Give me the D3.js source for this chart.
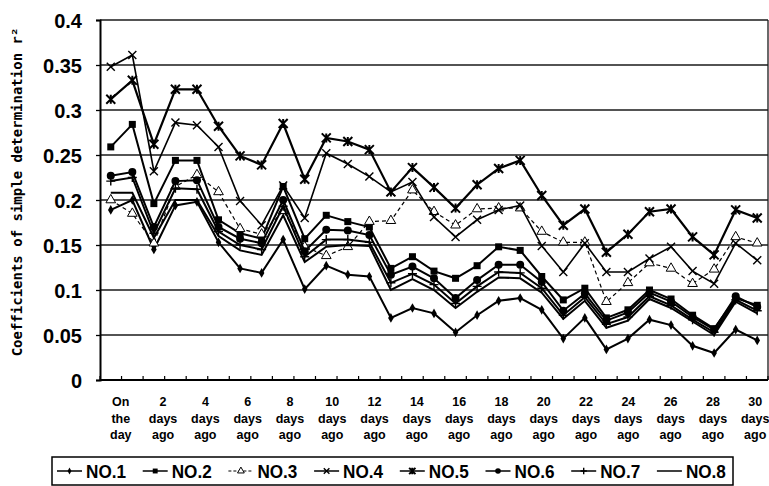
<!DOCTYPE html>
<html>
<head>
<meta charset="utf-8">
<script src="https://cdn.jsdelivr.net/npm/d3@7"></script>
<style>
  html, body { margin: 0; padding: 0; background: #fff; }
  svg { display: block; }
</style>
</head>
<body>
<svg id="chart" width="769" height="486"></svg>
<script>
// Category positions: on the day, then 1..30 days ago
const dayIndex = d3.range(0, 31);

// Axis labels shown on every second category
const dayLabels = [
  ["On", "the", "day"], ["2", "days", "ago"], ["4", "days", "ago"], ["6", "days", "ago"],
  ["8", "days", "ago"], ["10", "days", "ago"], ["12", "days", "ago"], ["14", "days", "ago"],
  ["16", "days", "ago"], ["18", "days", "ago"], ["20", "days", "ago"], ["22", "days", "ago"],
  ["24", "days", "ago"], ["26", "days", "ago"], ["28", "days", "ago"], ["30", "days", "ago"]
];

const yTicks = [0, 0.05, 0.1, 0.15, 0.2, 0.25, 0.3, 0.35, 0.4];

const seriesNames = ["NO.1", "NO.2", "NO.3", "NO.4", "NO.5", "NO.6", "NO.7", "NO.8"];

// Coefficients of simple determination r² per lag day
const no1 = [0.189, 0.200, 0.145, 0.194, 0.198, 0.153, 0.124, 0.119, 0.156, 0.101, 0.127,
             0.117, 0.115, 0.069, 0.080, 0.074, 0.053, 0.072, 0.088, 0.091, 0.078,
             0.046, 0.069, 0.034, 0.046, 0.067, 0.061, 0.038, 0.030, 0.056, 0.044];
const no2 = [0.259, 0.284, 0.196, 0.244, 0.244, 0.178, 0.163, 0.157, 0.215, 0.157, 0.183,
             0.176, 0.170, 0.124, 0.137, 0.121, 0.113, 0.127, 0.148, 0.144, 0.115,
             0.089, 0.102, 0.069, 0.078, 0.100, 0.090, 0.072, 0.057, 0.091, 0.083];
const no3 = [0.200, 0.185, 0.152, 0.215, 0.228, 0.209, 0.168, 0.162, 0.188, 0.148, 0.138,
             0.148, 0.176, 0.177, 0.211, 0.187, 0.172, 0.190, 0.191, 0.191, 0.165,
             0.153, 0.153, 0.087, 0.108, 0.130, 0.124, 0.107, 0.123, 0.159, 0.152];
const no4 = [0.348, 0.361, 0.232, 0.286, 0.283, 0.259, 0.199, 0.172, 0.216, 0.180, 0.252,
             0.240, 0.226, 0.209, 0.220, 0.181, 0.159, 0.178, 0.189, 0.194, 0.149,
             0.120, 0.152, 0.120, 0.120, 0.135, 0.148, 0.121, 0.107, 0.152, 0.133];
const no5 = [0.312, 0.333, 0.262, 0.323, 0.323, 0.282, 0.249, 0.239, 0.285, 0.223, 0.269,
             0.265, 0.256, 0.209, 0.236, 0.214, 0.191, 0.217, 0.235, 0.244, 0.205,
             0.172, 0.190, 0.142, 0.162, 0.187, 0.190, 0.159, 0.139, 0.189, 0.180];
const no6 = [0.227, 0.231, 0.170, 0.221, 0.222, 0.170, 0.157, 0.152, 0.200, 0.143, 0.167,
             0.166, 0.161, 0.117, 0.126, 0.113, 0.091, 0.111, 0.128, 0.128, 0.109,
             0.077, 0.096, 0.066, 0.075, 0.097, 0.087, 0.070, 0.056, 0.093, 0.081];
const no7 = [0.221, 0.225, 0.163, 0.213, 0.212, 0.165, 0.150, 0.145, 0.193, 0.137, 0.156,
             0.156, 0.153, 0.108, 0.118, 0.106, 0.085, 0.104, 0.120, 0.119, 0.102,
             0.072, 0.092, 0.062, 0.070, 0.093, 0.083, 0.067, 0.053, 0.089, 0.077];
const no8 = [0.208, 0.208, 0.158, 0.200, 0.200, 0.160, 0.144, 0.139, 0.183, 0.131, 0.148,
             0.150, 0.149, 0.100, 0.112, 0.100, 0.080, 0.098, 0.114, 0.113, 0.097,
             0.068, 0.088, 0.058, 0.066, 0.090, 0.080, 0.065, 0.050, 0.087, 0.074];

const seriesValues = [no1, no2, no3, no4, no5, no6, no7, no8];

// Per-series look: marker shape and stroke
const seriesStyle = [
  { marker: "diamond",  width: 2.0, dash: null },
  { marker: "square",   width: 2.0, dash: null },
  { marker: "triangle", width: 1.2, dash: "4,3" },
  { marker: "cross",    width: 1.6, dash: null },
  { marker: "star",     width: 2.2, dash: null },
  { marker: "circle",   width: 2.0, dash: null },
  { marker: "plus",     width: 2.0, dash: null },
  { marker: "none",     width: 2.0, dash: null }
];

const svg = d3.select("#chart");
const plot = { left: 100, right: 768, top: 20, bottom: 380 };

const x = d3.scaleBand().domain(dayIndex).range([plot.left, plot.right]).padding(0);
const cx = i => x(i) + x.bandwidth() / 2;
const y = d3.scaleLinear().domain([0, 0.4]).range([plot.bottom, plot.top]);

// Horizontal gridlines
svg.append("g").selectAll("line").data(yTicks.slice(1)).join("line")
  .attr("x1", plot.left).attr("x2", plot.right)
  .attr("y1", d => y(d)).attr("y2", d => y(d))
  .attr("stroke", "#1a1a1a").attr("stroke-width", 1.3);

// Right frame edge
svg.append("line")
  .attr("x1", plot.right).attr("x2", plot.right)
  .attr("y1", plot.top).attr("y2", plot.bottom)
  .attr("stroke", "#1a1a1a").attr("stroke-width", 1.3);

// Y axis
const yAxis = d3.axisLeft(y).tickValues(yTicks).tickSize(4).tickPadding(14)
  .tickFormat(d => String(+d.toFixed(2)));
const gy = svg.append("g").attr("transform", `translate(${plot.left},0)`).call(yAxis);
gy.select(".domain").attr("stroke", "#000").attr("stroke-width", 2);
gy.selectAll(".tick line").attr("stroke", "#000").attr("stroke-width", 1.3);
gy.selectAll(".tick text")
  .attr("font-family", "'Liberation Sans', Arial, sans-serif")
  .attr("font-weight", "bold").attr("font-size", 20).attr("fill", "#000")
  .attr("dy", "0.36em");

// X axis baseline with ticks between categories
svg.append("line")
  .attr("x1", plot.left).attr("x2", plot.right)
  .attr("y1", plot.bottom).attr("y2", plot.bottom)
  .attr("stroke", "#000").attr("stroke-width", 2);
svg.append("g").selectAll("line").data(d3.range(0, 32)).join("line")
  .attr("x1", k => plot.left + k * x.step()).attr("x2", k => plot.left + k * x.step())
  .attr("y1", plot.bottom).attr("y2", plot.bottom - 4)
  .attr("stroke", "#000").attr("stroke-width", 1.2);

// Category labels (every second day), three stacked lines
const labelX = d3.scaleLinear().domain([0, 15]).range([cx(0) + 10, cx(30) - 2]);
const xl = svg.append("g")
  .attr("font-family", "'Liberation Sans', Arial, sans-serif")
  .attr("font-weight", "bold").attr("font-size", 12.5).attr("fill", "#000")
  .attr("text-anchor", "middle");
dayLabels.forEach((lines, k) => {
  const t = xl.append("text").attr("x", labelX(k)).attr("y", 406);
  lines.forEach((s, j) => {
    t.append("tspan").attr("x", labelX(k)).attr("y", 406 + j * 16.5).text(s);
  });
});

// Y axis title
svg.append("text")
  .attr("transform", "translate(22,192) rotate(-90)")
  .attr("text-anchor", "middle")
  .attr("font-family", "'DejaVu Sans Mono', 'Liberation Mono', monospace")
  .attr("font-weight", "bold").attr("font-size", 14).attr("fill", "#000")
  .text("Coefficients of simple determination r²");

// Marker drawing
function drawMarker(g, type, size) {
  const s = size;
  if (type === "diamond") {
    g.append("path").attr("d", d3.symbol(d3.symbolDiamond, s * s * 0.55)()).attr("fill", "#000");
  } else if (type === "square") {
    g.append("rect").attr("x", -s / 2).attr("y", -s / 2).attr("width", s).attr("height", s).attr("fill", "#000");
  } else if (type === "triangle") {
    g.append("path").attr("d", d3.symbol(d3.symbolTriangle, s * s * 0.5)())
      .attr("fill", "#fff").attr("stroke", "#000").attr("stroke-width", 1);
  } else if (type === "cross") {
    const h = s / 2;
    g.append("path").attr("d", `M${-h},${-h}L${h},${h}M${-h},${h}L${h},${-h}`)
      .attr("stroke", "#000").attr("stroke-width", 1.4);
  } else if (type === "star") {
    const h = s / 2;
    g.append("path").attr("d", `M${-h},${-h}L${h},${h}M${-h},${h}L${h},${-h}M0,${-h}L0,${h}`)
      .attr("stroke", "#000").attr("stroke-width", 2);
  } else if (type === "circle") {
    g.append("circle").attr("r", s / 2).attr("fill", "#000");
  } else if (type === "plus") {
    const h = s / 2;
    g.append("path").attr("d", `M${-h},0L${h},0M0,${-h}L0,${h}`)
      .attr("stroke", "#000").attr("stroke-width", 1.4);
  }
}

const markerSize = { diamond: 7, square: 7, triangle: 9, cross: 8, star: 9, circle: 8, plus: 9, none: 0 };

// Series lines and markers
const line = d3.line().x((d, i) => cx(i)).y(d => y(d));
seriesValues.forEach((vals, si) => {
  const st = seriesStyle[si];
  const g = svg.append("g");
  g.append("path").datum(vals).attr("d", line)
    .attr("fill", "none").attr("stroke", "#000")
    .attr("stroke-width", st.width)
    .attr("stroke-dasharray", st.dash)
    .attr("stroke-linejoin", "miter");
  if (st.marker !== "none") {
    vals.forEach((v, i) => {
      const m = g.append("g").attr("transform", `translate(${cx(i)},${y(v)})`);
      drawMarker(m, st.marker, markerSize[st.marker]);
    });
  }
});

// Legend
const legend = svg.append("g");
legend.append("rect").attr("x", 52).attr("y", 457).attr("width", 681).attr("height", 28)
  .attr("fill", "#fff").attr("stroke", "#000").attr("stroke-width", 1.5);
const lx = d3.scaleLinear().domain([0, 8]).range([57, 57 + 8 * 85.7]);
seriesNames.forEach((name, si) => {
  const st = seriesStyle[si];
  const x0 = lx(si);
  const e = legend.append("g");
  e.append("line").attr("x1", x0).attr("x2", x0 + 25).attr("y1", 471).attr("y2", 471)
    .attr("stroke", "#000").attr("stroke-width", st.dash ? 1 : 1.5)
    .attr("stroke-dasharray", st.dash ? "3,2" : null);
  if (st.marker !== "none") {
    const m = e.append("g").attr("transform", `translate(${x0 + 12.5},471)`);
    drawMarker(m, st.marker, Math.max(4, markerSize[st.marker] * 0.7));
  }
  e.append("text").attr("x", x0 + 29).attr("y", 477.5)
    .attr("font-family", "'Liberation Sans Narrow', 'Arial Narrow', 'Liberation Sans', sans-serif")
    .attr("font-weight", "bold").attr("font-size", 18).attr("fill", "#000")
    .attr("textLength", 40).attr("lengthAdjust", "spacingAndGlyphs")
    .text(name);
});
</script>
</body>
</html>
